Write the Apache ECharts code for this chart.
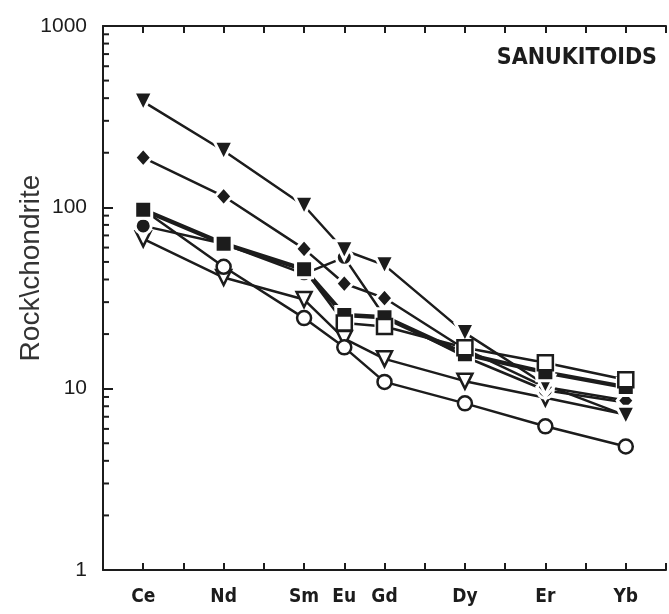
<!DOCTYPE html>
<html>
<head>
<meta charset="utf-8">
<title>Sanukitoids REE</title>
<script src="https://cdn.jsdelivr.net/npm/echarts@6/dist/echarts.min.js"></script>
<style>
  html, body { margin: 0; padding: 0; background: #fff; }
  #chart { width: 669px; height: 614px; }
</style>
</head>
<body>
<div id="chart"></div>
<script>
// REE order by atomic number
var elements = ['Ce', 'Nd', 'Sm', 'Eu', 'Gd', 'Dy', 'Er', 'Yb'];
var atomicNo = [58, 60, 62, 63, 64, 66, 68, 70];

// rock / chondrite values
var triDownFilled = [383, 205, 102, 58, 48, 20.3, 10.5, 7.1];
var diamondFilled = [188, 115, 59, 38, 31.6, 16.5, 10.2, 8.6];
var squareFilled = [97, 63, 45.5, 25.5, 24.8, 15.5, 12.3, 10.2];
var squareOpen = [97, 63, 45.5, 23, 22.0, 16.8, 13.9, 11.2];
var dotFilled = [79, 63, 43, 53, 25, 15, 9.8, 8.4];
var circleOpen = [97, 47, 24.5, 16.9, 10.9, 8.3, 6.2, 4.8];
var triDownOpen = [67, 41, 31, 18.9, 14.6, 11, 8.9, 7.2];

var yTickLabels = ['1', '10', '100', '1000'];
var minorTickValues = [2, 3, 4, 5, 6, 7, 8, 9, 20, 30, 40, 50, 60, 70, 80, 90, 200, 300, 400, 500, 600, 700, 800, 900];

var ink = '#1c1c1c';

function pairs(vals) {
  return vals.map(function (v, i) { return [atomicNo[i], v]; });
}

// filled symbols get a white rim so the lines stop short of them, like the print
function line(vals, symbol, size, open, width, rotate) {
  return {
    type: 'line',
    data: pairs(vals),
    symbol: symbol,
    symbolSize: size,
    symbolRotate: rotate || 0,
    showAllSymbol: true,
    lineStyle: { color: ink, width: width || 2.5 },
    itemStyle: open
      ? { color: '#fff', borderColor: ink, borderWidth: 2.5 }
      : { color: ink, borderColor: '#fff', borderWidth: 3 },
    emphasis: { disabled: true },
    animation: false
  };
}

// open squares sit on top, except where they fall on the filled square
var openSq = line(squareOpen, 'rect', 15, true, 2.5);
openSq.data = openSq.data.map(function (p, i) {
  var same = Math.abs(squareOpen[i] - squareFilled[i]) < 0.5;
  return same ? { value: p, symbol: 'none' } : { value: p };
});

var chart = echarts.init(document.getElementById('chart'));

chart.setOption({
  backgroundColor: '#fff',
  animation: false,
  grid: { left: 103, right: -8, top: 26, bottom: 44 },
  xAxis: [{
    type: 'value',
    min: 57, max: 71, interval: 1,
    axisLine: { lineStyle: { color: ink, width: 2 } },
    axisTick: { inside: true, length: 7, lineStyle: { color: ink, width: 2 } },
    splitLine: { show: false },
    axisLabel: {
      margin: 18,
      color: ink,
      fontSize: 19,
      fontWeight: 'bold',
      fontFamily: "'Liberation Sans Narrow', 'DejaVu Sans Condensed', sans-serif",
      formatter: function (v) {
        var i = atomicNo.indexOf(v);
        return i >= 0 ? elements[i] : '';
      }
    }
  }, {
    type: 'value',
    position: 'top',
    min: 57, max: 71, interval: 1,
    axisLine: { lineStyle: { color: ink, width: 2 } },
    axisTick: { inside: true, length: 7, lineStyle: { color: ink, width: 2 } },
    axisLabel: { show: false },
    splitLine: { show: false }
  }],
  yAxis: {
    type: 'log',
    logBase: 10,
    min: 1, max: 1000,
    axisLine: { show: true, lineStyle: { color: ink, width: 2 } },
    axisTick: { inside: true, length: 10, lineStyle: { color: ink, width: 2 } },
    splitLine: { show: false },
    axisLabel: {
      margin: 16,
      color: ink,
      fontSize: 21,
      fontFamily: "'Liberation Sans', Arial, sans-serif",
      formatter: function (v) {
        var s = String(Math.round(v));
        return yTickLabels.indexOf(s) >= 0 ? s : '';
      }
    }
  },
  graphic: [{
    type: 'text',
    x: 31, y: 268,
    rotation: Math.PI / 2,
    style: {
      text: 'Rock\\chondrite',
      fill: '#333',
      font: '28px "Liberation Sans", Arial, sans-serif',
      align: 'center',
      verticalAlign: 'middle'
    }
  }, {
    type: 'text',
    x: 657, y: 58,
    style: {
      text: 'SANUKITOIDS',
      fill: ink,
      font: 'bold 23px "Liberation Sans Narrow", "DejaVu Sans Condensed", sans-serif',
      align: 'right',
      verticalAlign: 'middle'
    }
  }],
  series: [
    {
      type: 'custom',
      silent: true,
      data: minorTickValues.map(function (v) { return [57, v]; }),
      encode: { x: 0, y: 1 },
      renderItem: function (params, api) {
        var p = api.coord([api.value(0), api.value(1)]);
        return {
          type: 'line',
          shape: { x1: p[0], y1: p[1], x2: p[0] + 6, y2: p[1] },
          style: { stroke: ink, lineWidth: 2 }
        };
      }
    },
    line(triDownOpen, 'triangle', 15, true, 2.5, 180),
    line(circleOpen, 'circle', 14, true, 2.5),
    line(dotFilled, 'circle', 16, false, 2.5),
    line(diamondFilled, 'diamond', [17, 19], false, 2.5),
    line(triDownFilled, 'triangle', 19, false, 2.5, 180),
    line(squareFilled, 'rect', 17, false, 4.5),
    openSq
  ]
});
</script>
</body>
</html>
